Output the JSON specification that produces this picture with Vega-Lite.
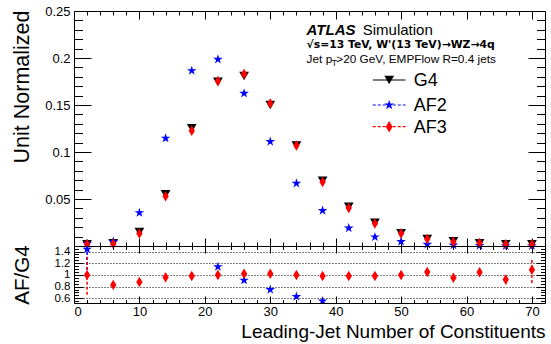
{
  "$schema": "https://vega.github.io/schema/vega-lite/v6.json",
  "padding": {"left": 10, "top": 4, "right": 2, "bottom": 4},
  "spacing": 0,
  "bounds": "flush",
  "config": {
    "font": "Liberation Sans",
    "view": {"stroke": "#000000", "strokeWidth": 1},
    "axis": {"domain": false, "grid": false, "labels": false, "tickColor": "#000000", "tickWidth": 1, "labelFont": "Liberation Sans", "labelFontSize": 13, "labelColor": "#000000", "titleFont": "Liberation Sans", "titleFontSize": 20, "titleFontWeight": "normal", "titleColor": "#000000"},
    "text": {"font": "Liberation Sans", "color": "#000000"}
  },
  "datasets": {
    "norm": [
      {"x": 2, "sample": "G4", "v": 0.0018}, {"x": 6, "sample": "G4", "v": 0.0029}, {"x": 10, "sample": "G4", "v": 0.015}, {"x": 14, "sample": "G4", "v": 0.055}, {"x": 18, "sample": "G4", "v": 0.1252}, {"x": 22, "sample": "G4", "v": 0.1748}, {"x": 26, "sample": "G4", "v": 0.1809}, {"x": 30, "sample": "G4", "v": 0.15}, {"x": 34, "sample": "G4", "v": 0.107}, {"x": 38, "sample": "G4", "v": 0.0695}, {"x": 42, "sample": "G4", "v": 0.0418}, {"x": 46, "sample": "G4", "v": 0.0248}, {"x": 50, "sample": "G4", "v": 0.0135}, {"x": 54, "sample": "G4", "v": 0.0074}, {"x": 58, "sample": "G4", "v": 0.005}, {"x": 62, "sample": "G4", "v": 0.003}, {"x": 66, "sample": "G4", "v": 0.002}, {"x": 70, "sample": "G4", "v": 0.0018},
      {"x": 2, "sample": "AF2", "v": 0.0026}, {"x": 6, "sample": "AF2", "v": 0.0046}, {"x": 10, "sample": "AF2", "v": 0.0354}, {"x": 14, "sample": "AF2", "v": 0.1146}, {"x": 18, "sample": "AF2", "v": 0.1865}, {"x": 22, "sample": "AF2", "v": 0.1986}, {"x": 26, "sample": "AF2", "v": 0.1624}, {"x": 30, "sample": "AF2", "v": 0.111}, {"x": 34, "sample": "AF2", "v": 0.0667}, {"x": 38, "sample": "AF2", "v": 0.0376}, {"x": 42, "sample": "AF2", "v": 0.0191}, {"x": 46, "sample": "AF2", "v": 0.0096}, {"x": 50, "sample": "AF2", "v": 0.0046}, {"x": 54, "sample": "AF2", "v": 0.0018}, {"x": 58, "sample": "AF2", "v": 0.0009}, {"x": 62, "sample": "AF2", "v": 0.0004}, {"x": 66, "sample": "AF2", "v": 0.0002}, {"x": 70, "sample": "AF2", "v": 0.0001},
      {"x": 2, "sample": "AF3", "v": 0.0018}, {"x": 6, "sample": "AF3", "v": 0.0024}, {"x": 10, "sample": "AF3", "v": 0.0132}, {"x": 14, "sample": "AF3", "v": 0.0528}, {"x": 18, "sample": "AF3", "v": 0.1227}, {"x": 22, "sample": "AF3", "v": 0.1755}, {"x": 26, "sample": "AF3", "v": 0.183}, {"x": 30, "sample": "AF3", "v": 0.1515}, {"x": 34, "sample": "AF3", "v": 0.1068}, {"x": 38, "sample": "AF3", "v": 0.068}, {"x": 42, "sample": "AF3", "v": 0.0405}, {"x": 46, "sample": "AF3", "v": 0.024}, {"x": 50, "sample": "AF3", "v": 0.0132}, {"x": 54, "sample": "AF3", "v": 0.0075}, {"x": 58, "sample": "AF3", "v": 0.0046}, {"x": 62, "sample": "AF3", "v": 0.0031}, {"x": 66, "sample": "AF3", "v": 0.0018}, {"x": 70, "sample": "AF3", "v": 0.0019}
    ],
    "ratio": [
      {"x": 2, "sample": "AF2", "r": 1.44}, {"x": 22, "sample": "AF2", "r": 1.14}, {"x": 26, "sample": "AF2", "r": 0.91}, {"x": 30, "sample": "AF2", "r": 0.75}, {"x": 34, "sample": "AF2", "r": 0.63}, {"x": 38, "sample": "AF2", "r": 0.555},
      {"x": 2, "sample": "AF3", "r": 1.0}, {"x": 6, "sample": "AF3", "r": 0.83}, {"x": 10, "sample": "AF3", "r": 0.88}, {"x": 14, "sample": "AF3", "r": 0.96}, {"x": 18, "sample": "AF3", "r": 0.98}, {"x": 22, "sample": "AF3", "r": 1.0}, {"x": 26, "sample": "AF3", "r": 1.02}, {"x": 30, "sample": "AF3", "r": 1.02}, {"x": 34, "sample": "AF3", "r": 1.0}, {"x": 38, "sample": "AF3", "r": 0.98}, {"x": 42, "sample": "AF3", "r": 0.98}, {"x": 46, "sample": "AF3", "r": 0.98}, {"x": 50, "sample": "AF3", "r": 1.0}, {"x": 54, "sample": "AF3", "r": 1.05}, {"x": 58, "sample": "AF3", "r": 0.95}, {"x": 62, "sample": "AF3", "r": 1.045}, {"x": 66, "sample": "AF3", "r": 0.92}, {"x": 70, "sample": "AF3", "r": 1.09}
    ],
    "err": [
      {"x": 2, "sample": "AF2", "lo": 1.0, "hi": 1.49},
      {"x": 2, "sample": "AF3", "lo": 0.66, "hi": 1.35},
      {"x": 66, "sample": "AF3", "lo": 0.84, "hi": 1.01},
      {"x": 70, "sample": "AF3", "lo": 0.86, "hi": 1.29}
    ]
  },
  "vconcat": [
    {
      "width": 471,
      "height": 235,
      "data": {"name": "norm"},
      "layer": [
        {
          "mark": {"type": "point", "filled": true, "opacity": 1},
          "encoding": {
            "x": {"field": "x", "type": "quantitative", "scale": {"domain": [0, 72], "nice": false, "zero": false}, "axis": {"orient": "bottom", "values": [0, 10, 20, 30, 40, 50, 60, 70], "tickSize": -8, "title": null}},
            "y": {"field": "v", "type": "quantitative", "scale": {"domain": [0, 0.25], "nice": false}, "axis": {"orient": "left", "values": [0.05, 0.1, 0.15, 0.2, 0.25], "tickSize": -17, "labels": true, "format": "~g", "labelPadding": 21, "title": "Unit Normalized", "titleFontSize": 21.5, "titleAngle": 270, "titleAlign": "right", "titleBaseline": "alphabetic", "titleX": -45.6, "titleY": -1}},
            "color": {"field": "sample", "type": "nominal", "scale": {"domain": ["G4", "AF2", "AF3"], "range": ["#000000", "#0000ff", "#ff0000"]}, "legend": null},
            "shape": {"field": "sample", "type": "nominal", "scale": {"domain": ["G4", "AF2", "AF3"], "range": ["triangle-down", "M0,-1L0.2245,-0.309L0.9511,-0.309L0.3633,0.118L0.5878,0.809L0,0.382L-0.5878,0.809L-0.3633,0.118L-0.9511,-0.309L-0.2245,-0.309Z", "M0,-1L0.6,0L0,1L-0.6,0Z"]}, "legend": null},
            "size": {"field": "sample", "type": "nominal", "scale": {"domain": ["G4", "AF2", "AF3"], "range": [95, 110, 130]}, "legend": null}
          }
        },
        {
          "mark": {"type": "point", "opacity": 0},
          "encoding": {
            "x": {"field": "x", "type": "quantitative", "axis": {"orient": "bottom", "values": [2, 4, 6, 8, 12, 14, 16, 18, 22, 24, 26, 28, 32, 34, 36, 38, 42, 44, 46, 48, 52, 54, 56, 58, 62, 64, 66, 68, 72], "tickSize": -4, "title": null}},
            "y": {"field": "v", "type": "quantitative", "axis": {"orient": "left", "values": [0.01, 0.02, 0.03, 0.04, 0.06, 0.07, 0.08, 0.09, 0.11, 0.12, 0.13, 0.14, 0.16, 0.17, 0.18, 0.19, 0.21, 0.22, 0.23, 0.24], "tickSize": -8.5, "title": null}}
          }
        },
        {
          "mark": {"type": "point", "opacity": 0},
          "encoding": {
            "x": {"field": "x", "type": "quantitative", "axis": {"orient": "top", "values": [0, 10, 20, 30, 40, 50, 60, 70], "tickSize": -8, "title": null}},
            "y": {"field": "v", "type": "quantitative", "axis": {"orient": "right", "values": [0.05, 0.1, 0.15, 0.2, 0.25], "tickSize": -17, "title": null}}
          }
        },
        {
          "mark": {"type": "point", "opacity": 0},
          "encoding": {
            "x": {"field": "x", "type": "quantitative", "axis": {"orient": "top", "values": [2, 4, 6, 8, 12, 14, 16, 18, 22, 24, 26, 28, 32, 34, 36, 38, 42, 44, 46, 48, 52, 54, 56, 58, 62, 64, 66, 68, 72], "tickSize": -4, "title": null}},
            "y": {"field": "v", "type": "quantitative", "axis": {"orient": "right", "values": [0.01, 0.02, 0.03, 0.04, 0.06, 0.07, 0.08, 0.09, 0.11, 0.12, 0.13, 0.14, 0.16, 0.17, 0.18, 0.19, 0.21, 0.22, 0.23, 0.24], "tickSize": -8.5, "title": null}}
          }
        },
        {
          "data": {"values": [{}]},
          "mark": {"type": "text", "text": "ATLAS", "fontSize": 15, "fontWeight": "bold", "fontStyle": "italic", "align": "left", "baseline": "alphabetic"},
          "encoding": {"x": {"datum": 35.56, "type": "quantitative", "axis": null}, "y": {"datum": 0.2245, "type": "quantitative", "axis": null}}
        },
        {
          "data": {"values": [{}]},
          "mark": {"type": "text", "text": "Simulation", "fontSize": 15, "align": "left", "baseline": "alphabetic"},
          "encoding": {"x": {"datum": 44.14, "type": "quantitative", "axis": null}, "y": {"datum": 0.2245, "type": "quantitative", "axis": null}}
        },
        {
          "data": {"values": [{}]},
          "mark": {"type": "text", "text": "√s=13 TeV, W'(13 TeV)→WZ→4q", "font": "DejaVu Sans", "fontSize": 10.8, "fontWeight": "bold", "align": "left", "baseline": "alphabetic"},
          "encoding": {"x": {"datum": 35.56, "type": "quantitative", "axis": null}, "y": {"datum": 0.2106, "type": "quantitative", "axis": null}}
        },
        {
          "data": {"values": [{}]},
          "mark": {"type": "text", "text": "Jet p", "fontSize": 11.8, "align": "left", "baseline": "alphabetic"},
          "encoding": {"x": {"datum": 35.56, "type": "quantitative", "axis": null}, "y": {"datum": 0.1947, "type": "quantitative", "axis": null}}
        },
        {
          "data": {"values": [{}]},
          "mark": {"type": "text", "text": "T", "fontSize": 8.5, "align": "left", "baseline": "alphabetic"},
          "encoding": {"x": {"datum": 39.42, "type": "quantitative", "axis": null}, "y": {"datum": 0.1918, "type": "quantitative", "axis": null}}
        },
        {
          "data": {"values": [{}]},
          "mark": {"type": "text", "text": ">20 GeV, EMPFlow R=0.4 jets", "fontSize": 11.8, "align": "left", "baseline": "alphabetic"},
          "encoding": {"x": {"datum": 40.1, "type": "quantitative", "axis": null}, "y": {"datum": 0.1947, "type": "quantitative", "axis": null}}
        },
        {
          "data": {"values": [{}]},
          "mark": {"type": "rule", "color": "#000000", "strokeWidth": 1.2},
          "encoding": {"x": {"datum": 45.67, "type": "quantitative", "axis": null}, "x2": {"datum": 50.69}, "y": {"datum": 0.1766, "type": "quantitative", "axis": null}}
        },
        {
          "data": {"values": [{}]},
          "mark": {"type": "rule", "color": "#0000ff", "strokeWidth": 1.2, "strokeDash": [3, 2]},
          "encoding": {"x": {"datum": 45.67, "type": "quantitative", "axis": null}, "x2": {"datum": 50.69}, "y": {"datum": 0.15, "type": "quantitative", "axis": null}}
        },
        {
          "data": {"values": [{}]},
          "mark": {"type": "rule", "color": "#ff0000", "strokeWidth": 1.2, "strokeDash": [3, 2]},
          "encoding": {"x": {"datum": 45.67, "type": "quantitative", "axis": null}, "x2": {"datum": 50.69}, "y": {"datum": 0.1269, "type": "quantitative", "axis": null}}
        },
        {
          "data": {"values": [{}]},
          "mark": {"type": "point", "filled": true, "opacity": 1, "color": "#000000", "shape": "triangle-down", "size": 95},
          "encoding": {"x": {"datum": 48.18, "type": "quantitative", "axis": null}, "y": {"datum": 0.1766, "type": "quantitative", "axis": null}}
        },
        {
          "data": {"values": [{}]},
          "mark": {"type": "point", "filled": true, "opacity": 1, "color": "#0000ff", "shape": "M0,-1L0.2245,-0.309L0.9511,-0.309L0.3633,0.118L0.5878,0.809L0,0.382L-0.5878,0.809L-0.3633,0.118L-0.9511,-0.309L-0.2245,-0.309Z", "size": 110},
          "encoding": {"x": {"datum": 48.18, "type": "quantitative", "axis": null}, "y": {"datum": 0.15, "type": "quantitative", "axis": null}}
        },
        {
          "data": {"values": [{}]},
          "mark": {"type": "point", "filled": true, "opacity": 1, "color": "#ff0000", "shape": "M0,-1L0.6,0L0,1L-0.6,0Z", "size": 130},
          "encoding": {"x": {"datum": 48.18, "type": "quantitative", "axis": null}, "y": {"datum": 0.1269, "type": "quantitative", "axis": null}}
        },
        {
          "data": {"values": [{}]},
          "mark": {"type": "text", "text": "G4", "fontSize": 18, "align": "left", "baseline": "alphabetic"},
          "encoding": {"x": {"datum": 51.92, "type": "quantitative", "axis": null}, "y": {"datum": 0.1702, "type": "quantitative", "axis": null}}
        },
        {
          "data": {"values": [{}]},
          "mark": {"type": "text", "text": "AF2", "fontSize": 18, "align": "left", "baseline": "alphabetic"},
          "encoding": {"x": {"datum": 51.92, "type": "quantitative", "axis": null}, "y": {"datum": 0.1436, "type": "quantitative", "axis": null}}
        },
        {
          "data": {"values": [{}]},
          "mark": {"type": "text", "text": "AF3", "fontSize": 18, "align": "left", "baseline": "alphabetic"},
          "encoding": {"x": {"datum": 51.92, "type": "quantitative", "axis": null}, "y": {"datum": 0.1199, "type": "quantitative", "axis": null}}
        }
      ],
      "resolve": {"axis": {"x": "independent", "y": "independent"}}
    },
    {
      "width": 471,
      "height": 57,
      "layer": [
        {
          "data": {"name": "err"},
          "mark": {"type": "rule", "strokeDash": [3, 2], "strokeWidth": 1.5, "clip": true},
          "encoding": {
            "x": {"field": "x", "type": "quantitative", "scale": {"domain": [0, 72], "nice": false, "zero": false}, "axis": null},
            "y": {"field": "lo", "type": "quantitative", "scale": {"domain": [0.52, 1.495], "nice": false, "zero": false}, "axis": null},
            "y2": {"field": "hi"},
            "color": {"field": "sample", "type": "nominal", "scale": {"domain": ["G4", "AF2", "AF3"], "range": ["#000000", "#0000ff", "#ff0000"]}, "legend": null}
          }
        },
        {
          "data": {"name": "ratio"},
          "mark": {"type": "point", "filled": true, "opacity": 1, "clip": true},
          "encoding": {
            "x": {"field": "x", "type": "quantitative", "axis": {"orient": "bottom", "values": [0, 10, 20, 30, 40, 50, 60, 70], "tickSize": -7, "labels": true, "labelPadding": 9.5, "title": "Leading-Jet Number of Constituents", "titleFontSize": 19, "titleAlign": "right", "titleBaseline": "alphabetic", "titleX": 471, "titleY": 34}},
            "y": {"field": "r", "type": "quantitative", "axis": {"orient": "left", "values": [0.6, 0.8, 1, 1.2, 1.4], "tickSize": -9, "labels": true, "labelOverlap": false, "labelFontSize": 11.5, "format": "~g", "labelPadding": 13, "grid": true, "gridColor": "#000000", "gridDash": [1, 2], "gridWidth": 1, "title": "AF/G4", "titleFontSize": 20.5, "titleAngle": 270, "titleAlign": "center", "titleBaseline": "alphabetic", "titleX": -45.6, "titleY": 28.5}},
            "color": {"field": "sample", "type": "nominal", "legend": null},
            "shape": {"field": "sample", "type": "nominal", "scale": {"domain": ["G4", "AF2", "AF3"], "range": ["triangle-down", "M0,-1L0.2245,-0.309L0.9511,-0.309L0.3633,0.118L0.5878,0.809L0,0.382L-0.5878,0.809L-0.3633,0.118L-0.9511,-0.309L-0.2245,-0.309Z", "M0,-1L0.6,0L0,1L-0.6,0Z"]}, "legend": null},
            "size": {"field": "sample", "type": "nominal", "scale": {"domain": ["G4", "AF2", "AF3"], "range": [95, 110, 130]}, "legend": null}
          }
        },
        {
          "data": {"name": "ratio"},
          "mark": {"type": "point", "opacity": 0},
          "encoding": {
            "x": {"field": "x", "type": "quantitative", "axis": {"orient": "bottom", "values": [2, 4, 6, 8, 12, 14, 16, 18, 22, 24, 26, 28, 32, 34, 36, 38, 42, 44, 46, 48, 52, 54, 56, 58, 62, 64, 66, 68, 72], "tickSize": -3.5, "title": null}},
            "y": {"field": "r", "type": "quantitative", "axis": {"orient": "left", "values": [0.55, 0.65, 0.7, 0.75, 0.85, 0.9, 0.95, 1.05, 1.1, 1.15, 1.25, 1.3, 1.35, 1.45], "tickSize": -4.5, "title": null}}
          }
        },
        {
          "data": {"name": "ratio"},
          "mark": {"type": "point", "opacity": 0},
          "encoding": {
            "x": {"field": "x", "type": "quantitative", "axis": {"orient": "top", "values": [0, 10, 20, 30, 40, 50, 60, 70], "tickSize": -7, "title": null}},
            "y": {"field": "r", "type": "quantitative", "axis": {"orient": "right", "values": [0.6, 0.8, 1, 1.2, 1.4], "tickSize": -9, "title": null}}
          }
        },
        {
          "data": {"name": "ratio"},
          "mark": {"type": "point", "opacity": 0},
          "encoding": {
            "x": {"field": "x", "type": "quantitative", "axis": {"orient": "top", "values": [2, 4, 6, 8, 12, 14, 16, 18, 22, 24, 26, 28, 32, 34, 36, 38, 42, 44, 46, 48, 52, 54, 56, 58, 62, 64, 66, 68, 72], "tickSize": -3.5, "title": null}},
            "y": {"field": "r", "type": "quantitative", "axis": {"orient": "right", "values": [0.55, 0.65, 0.7, 0.75, 0.85, 0.9, 0.95, 1.05, 1.1, 1.15, 1.25, 1.3, 1.35, 1.45], "tickSize": -4.5, "title": null}}
          }
        }
      ],
      "resolve": {"axis": {"x": "independent", "y": "independent"}}
    }
  ]
}
